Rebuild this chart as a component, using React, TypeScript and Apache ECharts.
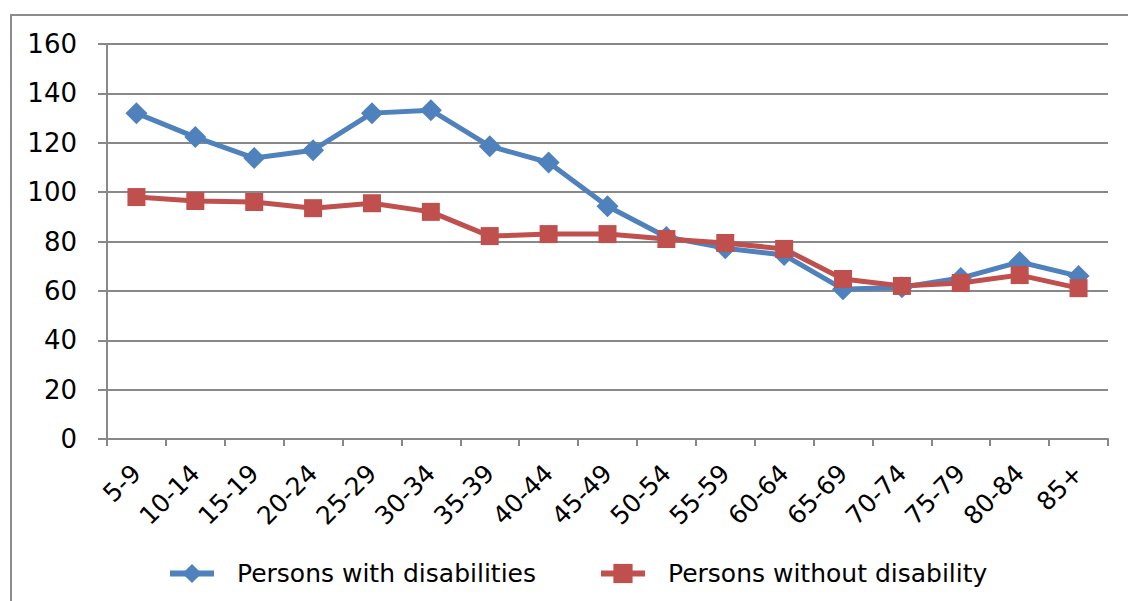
import React, { useEffect, useRef } from "react";
import * as echarts from "echarts";

const categories = ["5-9", "10-14", "15-19", "20-24", "25-29", "30-34", "35-39", "40-44", "45-49", "50-54", "55-59", "60-64", "65-69", "70-74", "75-79", "80-84", "85+"];
const withDisabilities = [132, 122.3, 113.8, 117, 132, 133.2, 118.6, 112, 94.3, 81.8, 77.3, 74.5, 60.7, 61.5, 65.2, 71.7, 66];
const withoutDisability = [98, 96.4, 96, 93.5, 95.5, 92, 82.2, 83, 83, 81, 79.4, 77, 64.8, 62, 63.2, 66.4, 61.1];
const seriesNames = ["Persons with disabilities", "Persons without disability"];

export default function App() {
  const ref = useRef<HTMLDivElement>(null);
  useEffect(() => {
    const chart = echarts.init(ref.current!, null, { renderer: "svg" });
    const font = "DejaVu Sans";
    chart.setOption({
      animation: false,
      backgroundColor: "#fff",
      graphic: [
        {
          type: "rect",
          shape: { x: 11, y: 15, width: 1300, height: 800 },
          style: { fill: "none", stroke: "#8c8c8c", lineWidth: 2 },
          silent: true,
        },
      ],
      grid: { left: 107, top: 44, right: 20, bottom: 162, containLabel: false },
      legend: {
        left: 162,
        top: 556,
        itemWidth: 44,
        itemHeight: 24,
        itemGap: 62,
        lineStyle: { width: 6 },
        textStyle: { fontFamily: font, fontSize: 25, color: "#000", padding: [0, 0, 0, 18] },
        data: seriesNames,
      },
      xAxis: {
        type: "category",
        data: categories,
        boundaryGap: true,
        axisLine: { lineStyle: { color: "#888", width: 2 } },
        axisTick: { show: true, length: 7, lineStyle: { color: "#888", width: 2 } },
        axisLabel: { rotate: 45, margin: 30, fontFamily: font, fontSize: 25, color: "#000", interval: 0 },
      },
      yAxis: {
        type: "value",
        min: 0,
        max: 160,
        interval: 20,
        axisLine: { show: true, lineStyle: { color: "#888", width: 2 } },
        axisTick: { show: true, length: 9, lineStyle: { color: "#888", width: 2 } },
        axisLabel: { margin: 30, fontFamily: font, fontSize: 26, color: "#000" },
        splitLine: { lineStyle: { color: "#888", width: 2 } },
      },
      series: [
        {
          name: seriesNames[0],
          type: "line",
          data: withDisabilities,
          symbol: "diamond",
          symbolSize: 22,
          lineStyle: { color: "#4F81BD", width: 5 },
          itemStyle: { color: "#4F81BD" },
        },
        {
          name: seriesNames[1],
          type: "line",
          data: withoutDisability,
          symbol: "rect",
          symbolSize: 18,
          lineStyle: { color: "#C0504D", width: 5 },
          itemStyle: { color: "#C0504D" },
        },
      ],
    });
    return () => chart.dispose();
  }, []);
  return <div ref={ref} style={{ position: "absolute", left: 0, top: 0, width: 1128, height: 601 }} />;
}
